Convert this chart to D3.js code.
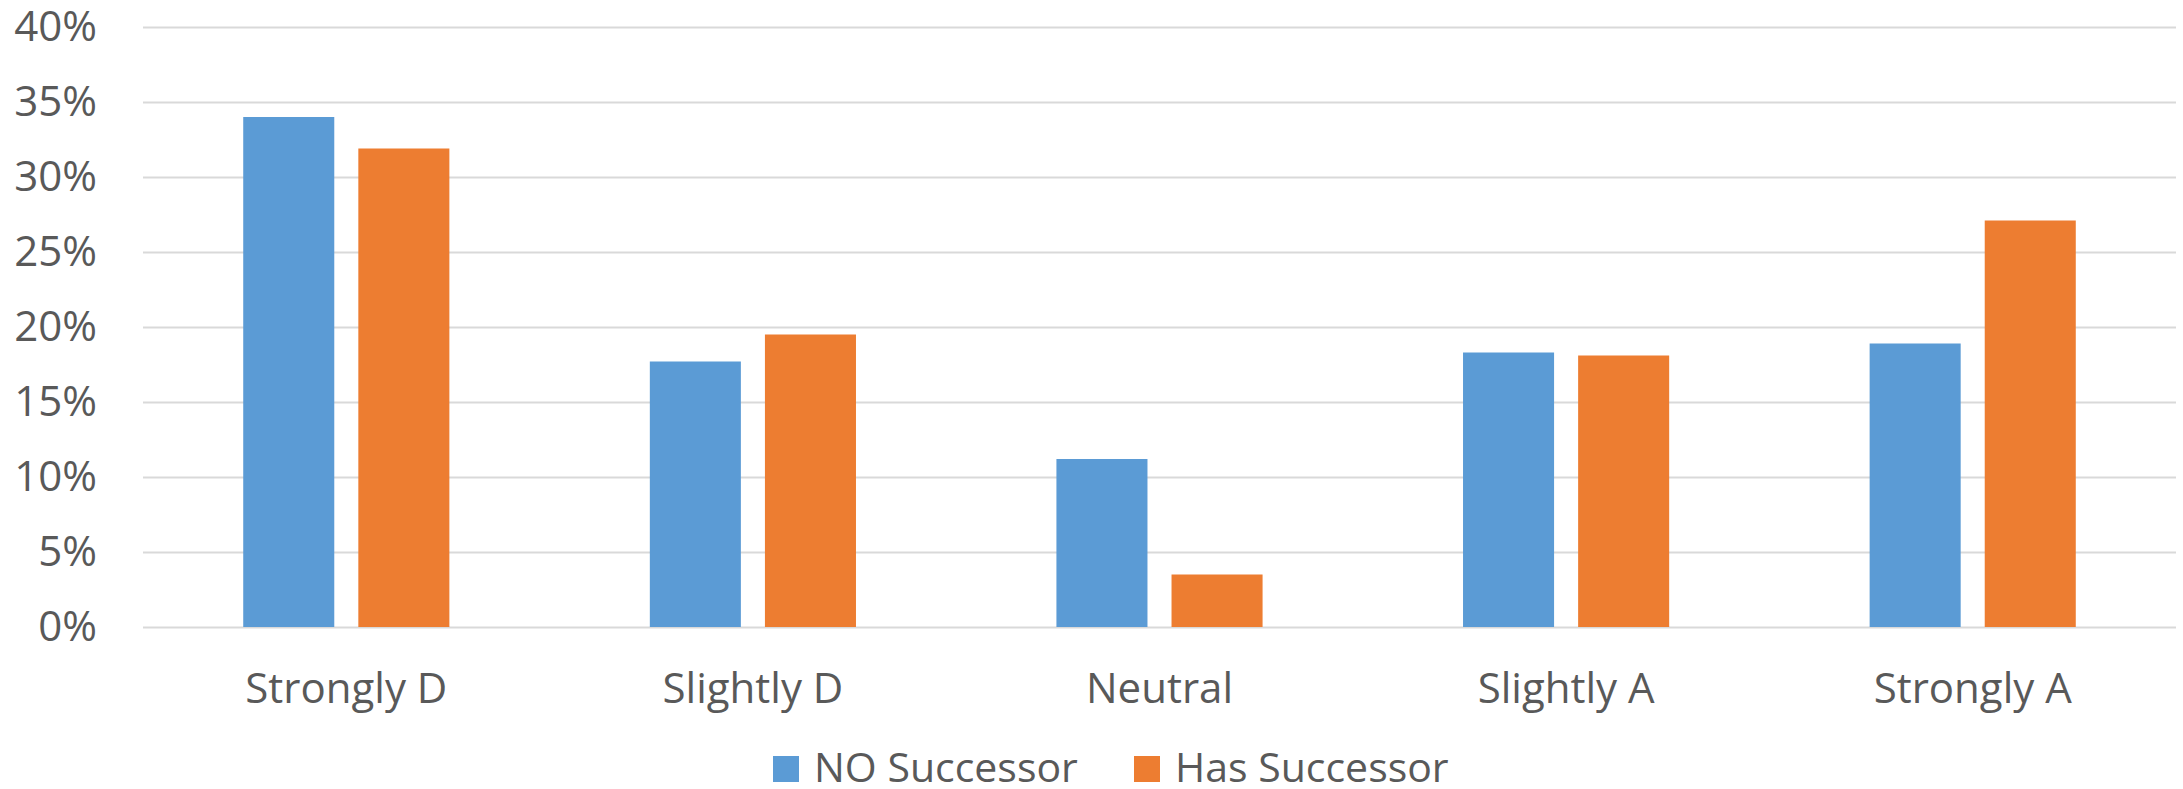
<!DOCTYPE html>
<html>
<head>
<meta charset="utf-8">
<script src="https://cdn.jsdelivr.net/npm/d3@7"></script>
<style>
  html, body { margin: 0; padding: 0; background: #fff; }
  svg { display: block; }
  text { font-family: "Open Sans", "Noto Sans", sans-serif; fill: #595959; }
</style>
</head>
<body>
<svg id="chart" width="2183" height="789"></svg>
<script>
// Survey answers by successor status (share of respondents)
const categories = ["Strongly D", "Slightly D", "Neutral", "Slightly A", "Strongly A"];
const seriesNames = ["NO Successor", "Has Successor"];
const noSuccessor = [0.340, 0.177, 0.112, 0.183, 0.189];
const hasSuccessor = [0.319, 0.195, 0.035, 0.181, 0.271];
const yTicks = [0, 0.05, 0.10, 0.15, 0.20, 0.25, 0.30, 0.35, 0.40];
const colors = ["#5B9BD5", "#ED7D31"];

const seriesValues = [noSuccessor, hasSuccessor];
const rows = categories.map((c, i) => ({
  category: c,
  values: seriesNames.map((s, j) => ({ series: s, value: seriesValues[j][i] }))
}));

const svg = d3.select("#chart");
const plot = { left: 143, right: 2176, top: 27, bottom: 627 };

const x = d3.scaleBand()
  .domain(categories)
  .range([plot.left, plot.right])
  .paddingInner(0.493)
  .paddingOuter(0.2465);

const xInner = d3.scaleBand()
  .domain(seriesNames)
  .range([0, x.bandwidth()])
  .paddingInner(0.209)
  .paddingOuter(0);

const y = d3.scaleLinear().domain([0, 0.4]).range([plot.bottom, plot.top]);
const color = d3.scaleOrdinal().domain(seriesNames).range(colors);

// Horizontal gridlines with percentage labels
const yAxis = d3.axisLeft(y)
  .tickValues(yTicks)
  .tickFormat(d3.format(".0%"))
  .tickSize(-(plot.right - plot.left))
  .tickPadding(46);

const gy = svg.append("g")
  .attr("transform", `translate(${plot.left},0)`)
  .call(yAxis);
gy.select(".domain").remove();
gy.selectAll(".tick line").attr("stroke", "#d9d9d9").attr("stroke-width", 2);
gy.selectAll(".tick text")
  .attr("font-size", 42)
  .attr("dy", "0.32em")
  .style("fill", "#595959");

// Clustered bars
const groups = svg.append("g").selectAll("g")
  .data(rows)
  .join("g")
  .attr("transform", d => `translate(${x(d.category)},0)`);

groups.selectAll("rect")
  .data(d => d.values)
  .join("rect")
  .attr("x", d => xInner(d.series))
  .attr("width", xInner.bandwidth())
  .attr("y", d => y(d.value))
  .attr("height", d => y(0) - y(d.value))
  .attr("fill", d => color(d.series));

// Category labels under each cluster
const xAxis = d3.axisBottom(x).tickSize(0).tickPadding(0);
const gx = svg.append("g")
  .attr("transform", `translate(0,${plot.bottom})`)
  .call(xAxis);
gx.select(".domain").remove();
gx.selectAll(".tick text")
  .attr("font-size", 42)
  .attr("y", 76)
  .attr("dy", 0)
  .style("fill", "#595959");

// Legend
const legend = svg.append("g").attr("transform", "translate(773,0)");
const legendOffsets = [0, 361];
seriesNames.forEach((s, i) => {
  const g = legend.append("g").attr("transform", `translate(${legendOffsets[i]},0)`);
  g.append("rect")
    .attr("x", 0).attr("y", 756)
    .attr("width", 26).attr("height", 26)
    .attr("fill", color(s));
  g.append("text")
    .attr("x", 41)
    .attr("y", 782)
    .attr("font-size", 41)
    .text(s);
});
</script>
</body>
</html>
